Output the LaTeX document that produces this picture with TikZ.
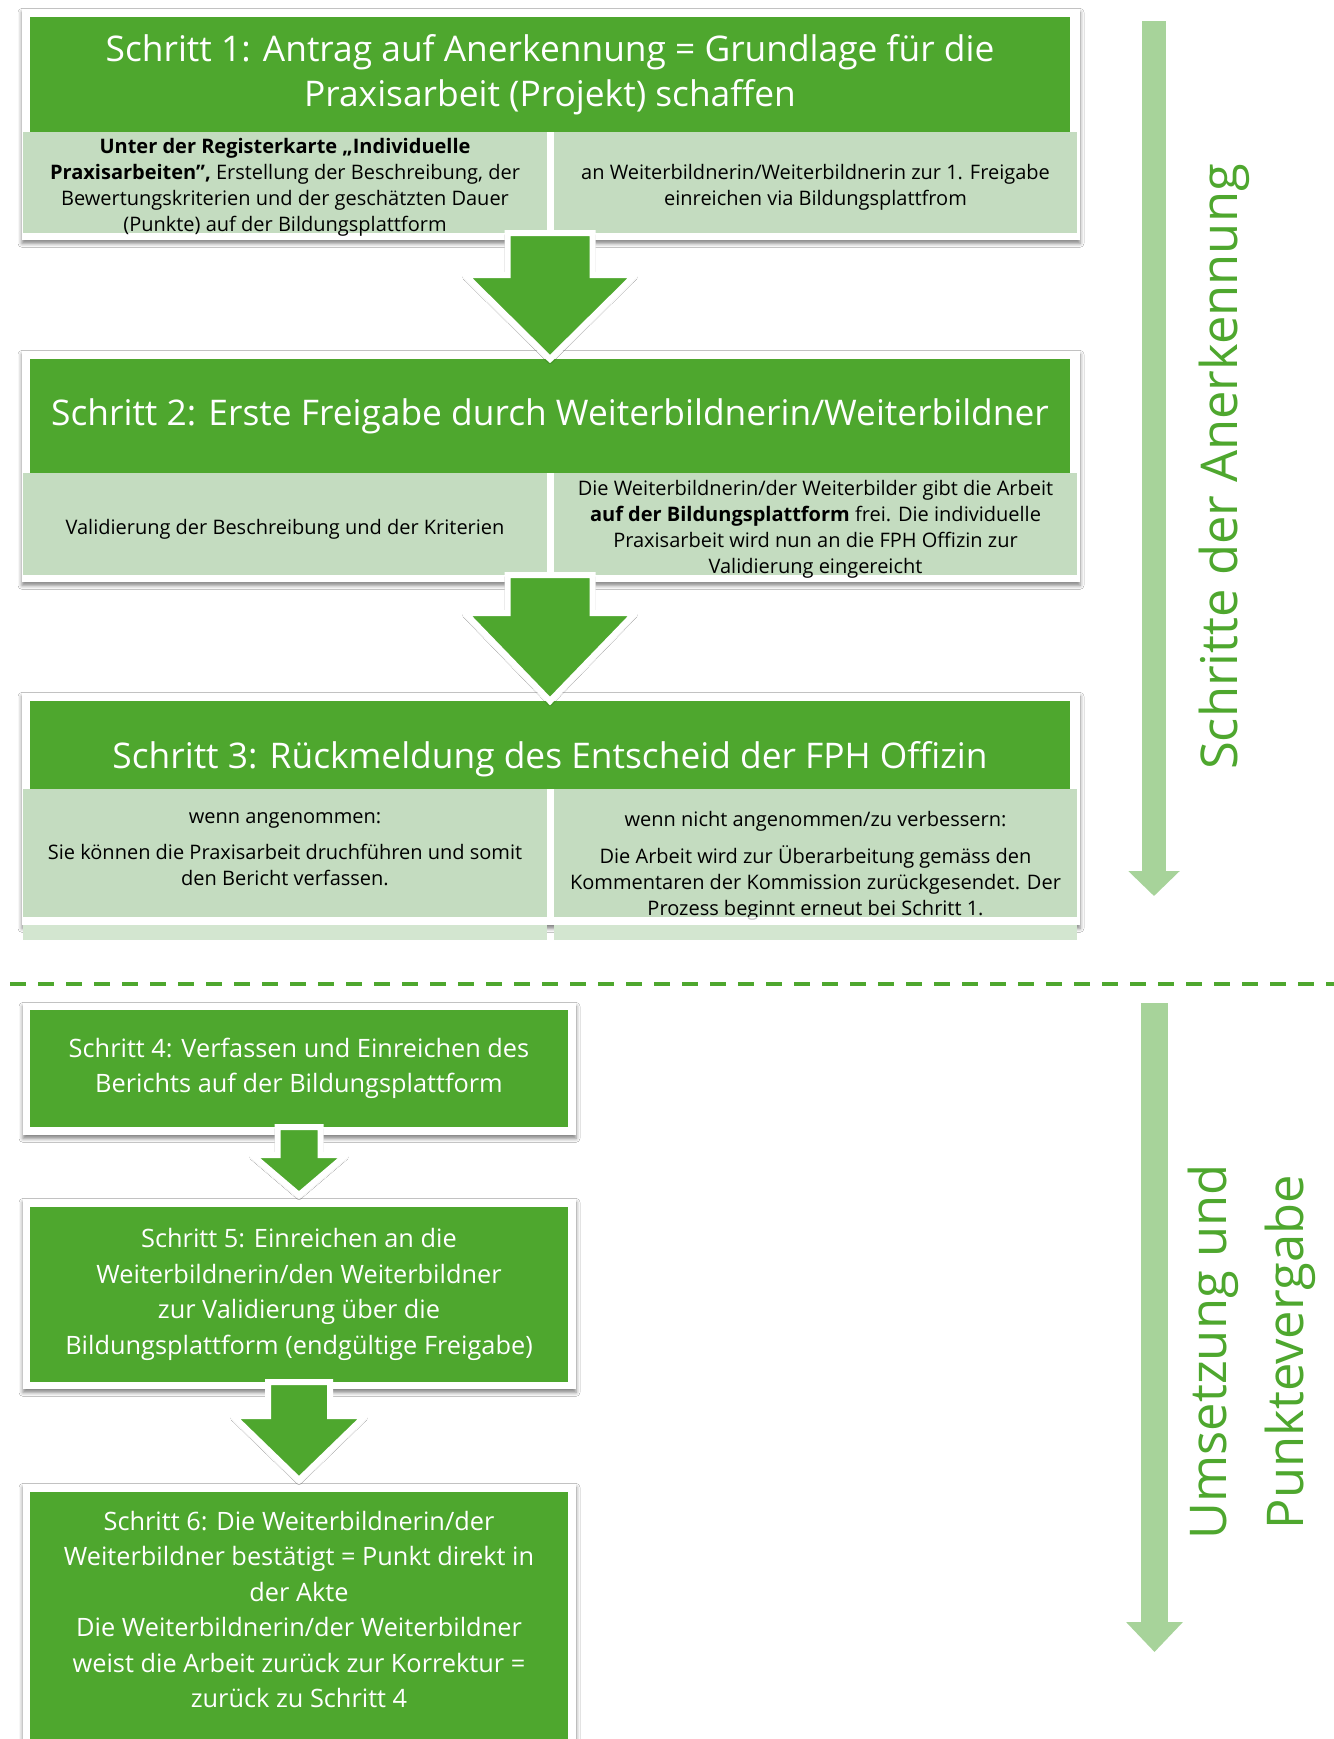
\documentclass[tikz,border=0pt]{standalone}
\usepackage{fontspec}
\setmainfont{Open Sans}
\usetikzlibrary{calc,shadows.blur,arrows.meta}
\definecolor{gr}{HTML}{4EA72E}
\definecolor{lgr}{HTML}{C4DCC0}
\definecolor{sidegr}{HTML}{A7D39A}
\definecolor{bandgr}{HTML}{D3E6D0}
\newcommand\blockarrow[5]{%
  \draw[blockarr] ($(#1)+(-#2,-#5)$) -- ($(#1)+(#2,-#5)$) -- ($(#1)+(#2,-#4)$) -- ($(#1)+(#3,-#4)$) -- (#1) -- ($(#1)+(-#3,-#4)$) -- ($(#1)+(-#2,-#4)$) -- cycle;}
\begin{document}
\begin{tikzpicture}[x=0.75pt,y=-0.75pt,
  every node/.style={inner sep=0pt, outer sep=0pt},
  frame/.style={anchor=north west, fill=white, blur shadow={shadow xshift=0pt, shadow yshift=-2.5pt, shadow blur radius=3pt, shadow opacity=50}},
  head/.style={anchor=north west, fill=gr, text=white, align=center, minimum width=1040*0.75pt, font=\fontsize{26.5}{33.75}\selectfont},
  cell/.style={anchor=north west, fill=lgr},
  celltext/.style={text=black, align=center, font=\fontsize{15}{19.5}\selectfont},
  gbox/.style={anchor=north west, fill=gr, text=white, align=center, minimum width=538*0.75pt, font=\fontsize{19}{26.6}\selectfont},
  blockarr/.style={fill=gr, draw=white, line width=4.5pt, line join=miter, blur shadow={shadow xshift=0pt, shadow yshift=-1.5pt, shadow blur radius=2pt, shadow opacity=30}},
  sidetext/.style={rotate=90, text=gr, align=center, font=\fontsize{38}{57.75}\selectfont},
  sidearrow/.style={draw=sidegr, line cap=butt}
]
\clip (0,0) rectangle (1334,1739);
\fill[white] (0,0) rectangle (1334,1739);

% ---------- Schritt 1 ----------
\node[frame, minimum width=1058*0.75pt, minimum height=231*0.75pt] (f1) at (22,9) {};
\node[head, minimum height=115*0.75pt] (h1) at (30,17) {Schritt 1: Antrag auf Anerkennung = Grundlage für die\\Praxisarbeit (Projekt) schaffen};
\node[cell, minimum width=524*0.75pt, minimum height=101*0.75pt] (c1l) at (23,132) {};
\node[cell, minimum width=523*0.75pt, minimum height=101*0.75pt] (c1r) at (554,132) {};
\node[celltext] (c1lt) at ($(c1l.center)+(0,5)$) {{\bfseries Unter der Registerkarte „Individuelle}\\{\bfseries Praxisarbeiten",} Erstellung der Beschreibung, der\\Bewertungskriterien und der geschätzten Dauer\\(Punkte) auf der Bildungsplattform};
\node[celltext] (c1rt) at ($(c1r.center)+(0,5)$) {an Weiterbildnerin/Weiterbildnerin zur 1. Freigabe\\einreichen via Bildungsplattfrom};

% ---------- Schritt 2 ----------
\node[frame, minimum width=1058*0.75pt, minimum height=231*0.75pt] (f2) at (22,351) {};
\node[head, minimum height=114*0.75pt] (h2) at (30,359) {Schritt 2: Erste Freigabe durch Weiterbildnerin/Weiterbildner};
\node[cell, minimum width=524*0.75pt, minimum height=102*0.75pt] (c2l) at (23,473) {};
\node[cell, minimum width=523*0.75pt, minimum height=102*0.75pt] (c2r) at (554,473) {};
\node[celltext] (c2lt) at ($(c2l.center)+(0,5)$) {Validierung der Beschreibung und der Kriterien};
\node[celltext] (c2rt) at ($(c2r.center)+(0,5)$) {Die Weiterbildnerin/der Weiterbilder gibt die Arbeit\\{\bfseries auf der Bildungsplattform} frei. Die individuelle\\Praxisarbeit wird nun an die FPH Offizin zur\\Validierung eingereicht};

% ---------- Schritt 3 ----------
\node[frame, minimum width=1058*0.75pt, minimum height=232*0.75pt] (f3) at (22,693) {};
\node[head, minimum height=88*0.75pt] (h3) at (30,701) {};
\node[text=white, font=\fontsize{26.5}{33.75}\selectfont] (h3t) at ($(h3.center)+(0,14)$) {Schritt 3: Rückmeldung des Entscheid der FPH Offizin};
\node[cell, minimum width=524*0.75pt, minimum height=128*0.75pt] (c3l) at (23,789) {};
\node[cell, minimum width=523*0.75pt, minimum height=128*0.75pt] (c3r) at (554,789) {};
\node[celltext] (c3lt) at ($(c3l.center)+(0,-4)$) {wenn angenommen:\\[8pt]Sie können die Praxisarbeit druchführen und somit\\den Bericht verfassen.};
\node[celltext] (c3rt) at ($(c3r.center)+(0,13)$) {wenn nicht angenommen/zu verbessern:\\[8pt]Die Arbeit wird zur Überarbeitung gemäss den\\Kommentaren der Kommission zurückgesendet. Der\\Prozess beginnt erneut bei Schritt 1.};
\fill[white, opacity=0.75] (c3l.south west) rectangle ($(c3r.south east)+(0,8)$);
\node[anchor=north west, fill=bandgr, minimum width=524*0.75pt, minimum height=15*0.75pt] (b3l) at (23,925) {};
\node[anchor=north west, fill=bandgr, minimum width=523*0.75pt, minimum height=15*0.75pt] (b3r) at (554,925) {};

% ---------- block arrows 1-2 ----------
\blockarrow{h2.north}{42.5}{85}{84}{126}
\blockarrow{h3.north}{42.5}{85}{88}{126}

% ---------- dashed separator ----------
\coordinate (dl) at (10,984);
\coordinate (dr) at (1334,984);
\draw[gr, line width=3pt, dash pattern=on 12pt off 9pt] (dl) -- (dr);

% ---------- Schritt 4-6 ----------
\node[frame, minimum width=553*0.75pt, minimum height=132*0.75pt] (f4) at (23,1003) {};
\node[gbox, minimum height=117*0.75pt] (g4) at (30,1010) {Schritt 4: Verfassen und Einreichen des\\Berichts auf der Bildungsplattform};

\node[frame, minimum width=553*0.75pt, minimum height=190*0.75pt] (f5) at (23,1199) {};
\node[gbox, minimum height=175*0.75pt] (g5) at (30,1207) {Schritt 5: Einreichen an die\\Weiterbildnerin/den Weiterbildner\\zur Validierung über die\\Bildungsplattform (endgültige Freigabe)};

\node[frame, minimum width=553*0.75pt, minimum height=300*0.75pt] (f6) at (23,1484) {};
\node[gbox, minimum height=290*0.75pt] (g6) at (30,1492) {};
\node[anchor=north, text=white, align=center, font=\fontsize{19}{26.6}\selectfont] (g6t) at ($(g6.north)+(0,19)$) {Schritt 6: Die Weiterbildnerin/der\\Weiterbildner bestätigt = Punkt direkt in\\der Akte\\Die Weiterbildnerin/der Weiterbildner\\weist die Arbeit zurück zur Korrektur =\\zurück zu Schritt 4};

\coordinate (tip4) at ($(g5.north)+(0,-12)$);
\coordinate (tip5) at ($(g6.north)+(0,-12)$);
\blockarrow{tip4}{21.5}{47}{40}{68}
\blockarrow{tip5}{31}{66}{64}{98}

% ---------- side arrows and labels ----------
\coordinate (s1a) at (1154,21);
\coordinate (s1b) at (1154,896);
\draw[sidearrow, line width=18pt, -{Triangle[width=37.5pt,length=18.75pt]}] (s1a) -- (s1b);
\coordinate (s2a) at (1154.5,1003);
\coordinate (s2b) at (1154.5,1652);
\draw[sidearrow, line width=20.25pt, -{Triangle[width=41.25pt,length=22.5pt]}] (s2a) -- (s2b);
\node[sidetext] (t1) at (1224,467) {Schritte der Anerkennung};
\node[sidetext] (t2) at (1252,1352) {Umsetzung und\\Punktevergabe};
\end{tikzpicture}
\end{document}
